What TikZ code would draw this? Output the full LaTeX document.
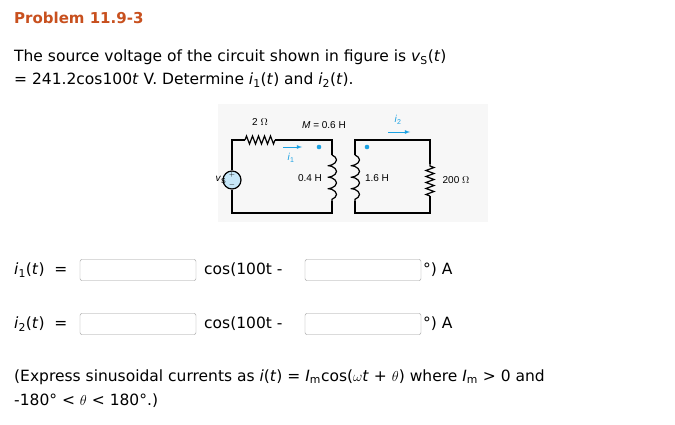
\documentclass[tikz,border=0pt]{standalone}
\usepackage{fontspec}
\setmainfont{DejaVu Sans}
\newfontfamily\ckt{Liberation Sans}
\usetikzlibrary{decorations.pathmorphing}
\definecolor{ttl}{HTML}{C8501E}
\definecolor{blu}{HTML}{1BA1E2}
\newcommand{\iit}[1]{\textit{#1}}
\begin{document}
\begin{tikzpicture}[x=1pt,y=-1pt,
  txt/.style={anchor=west,inner sep=0,font=\fontsize{15.5}{18}\selectfont},
  box/.style={draw=gray!80,rounded corners=2pt,minimum width=116pt,minimum height=21pt,inner sep=0},
  w/.style={line width=1.2pt},
  lab/.style={font=\ckt\fontsize{10}{12}\selectfont,inner sep=1pt},
  res/.style={decorate,decoration={zigzag,segment length=6pt,amplitude=4pt}},
  coil/.style={decorate,decoration={coil,aspect=0.45,segment length=11.5pt,amplitude=4.5pt}}]
\useasboundingbox (0,0) rectangle (675,425);
\fill[white] (0,0) rectangle (675,425);
\node[anchor=west,inner sep=0,text=ttl,font=\bfseries\fontsize{15}{18}\selectfont] (t) at (14,18) {Problem 11.9-3};
\node[txt] (l1) at (14,57) {The source voltage of the circuit shown in figure is \iit{v}\textsubscript{S}(\iit{t})};
\node[txt] (l2) at (14,80) {= 241.2cos100\iit{t} V. Determine \iit{i}\textsubscript{1}(\iit{t}) and \iit{i}\textsubscript{2}(\iit{t}).};
\fill[gray!6] (218,104) rectangle (488,222);
% circuit
\coordinate (a) at (232,140); \coordinate (b) at (332,140);
\coordinate (c) at (332,213); \coordinate (d) at (232,213);
\coordinate (e) at (355,140); \coordinate (f) at (430,140);
\coordinate (g) at (430,213); \coordinate (h) at (355,213);
\node[circle,draw,w,fill=blu!25,minimum size=18pt,inner sep=0] (vs) at (232,180) {};
\node[font=\fontsize{7}{8}\selectfont] (pl) at (232,175) {$+$};
\node[font=\fontsize{7}{8}\selectfont] (mi) at (232,185) {$-$};
\draw[w] (vs.north) -- (a) -- (245,140);
\draw[w,res] (245,140) -- (275,140);
\draw[w] (275,140) -- (b) -- (332,155);
\draw[w,coil] (332,155) -- (332,201);
\draw[w] (332,201) -- (c) -- (d) -- (vs.south);
\draw[w] (355,201) -- (h) -- (g) -- (430,196);
\draw[w,res] (430,196) -- (430,164);
\draw[w] (430,164) -- (f) -- (e) -- (355,155);
\draw[w,coil] (355,155) -- (355,201);
\fill[blu] (319,147) circle (2.3pt);
\fill[blu] (367,147) circle (2.3pt);
\draw[blu,thick,-latex] (283,147) -- (302,147);
\draw[blu,thick,-latex] (388,132) -- (410,132);
\node[lab,text=blu] (i1) at (291,158) {\iit{i}\textsubscript{1}};
\node[lab,text=blu] (i2) at (398,120) {\iit{i}\textsubscript{2}};
\node[lab] (r1) at (260,122) {2 $\Omega$};
\node[lab] (m) at (324,125) {\textit{M} = 0.6 H};
\node[lab] (L1) at (310,178) {0.4 H};
\node[lab] (L2) at (377,178) {1.6 H};
\node[lab] (R2) at (456,180) {200 $\Omega$};
\node[lab] (v) at (221,180) {\iit{v}\textsubscript{S}};
% answers
\node[txt] (a1) at (14,270) {\iit{i}\textsubscript{1}(\iit{t})\ \ =};
\node[box] (b1) at (138,270) {};
\node[txt] (c1) at (204,270) {cos(100t -};
\node[box] (b2) at (363,270) {};
\node[txt] (d1) at (423,270) {°) A};
\node[txt] (a2) at (14,324) {\iit{i}\textsubscript{2}(\iit{t})\ \ =};
\node[box] (b3) at (138,324) {};
\node[txt] (c2) at (204,324) {cos(100t -};
\node[box] (b4) at (363,324) {};
\node[txt] (d2) at (423,324) {°) A};
\node[txt] (e1) at (14,377) {(Express sinusoidal currents as \iit{i}(\iit{t}) = \iit{I}\textsubscript{m}cos($\omega$\iit{t} + $\theta$) where \iit{I}\textsubscript{m} > 0 and};
\node[txt] (e2) at (14,401) {-180° < $\theta$ < 180°.)};
\end{tikzpicture}
\end{document}
